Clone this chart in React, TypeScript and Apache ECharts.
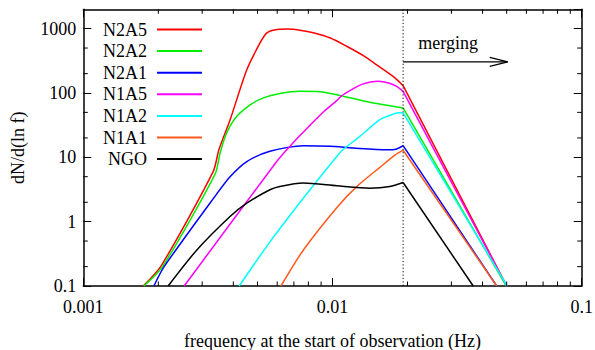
import React, { useEffect, useRef } from "react";
import * as echarts from "echarts";

// ---- data ----
const SERIES_NAMES = ["N2A5", "N2A2", "N2A1", "N1A5", "N1A2", "N1A1", "NGO"];
const SERIES_COLORS = ["#ff0000", "#00ee00", "#0000ff", "#ff00ff", "#00ffff", "#ff5a1e", "#000000"];

const N2A5 = [
  [0.00174, 0.1], [0.00206, 0.21], [0.00332, 6.0], [0.0035, 13.1], [0.00388, 38],
  [0.00453, 230], [0.00512, 600], [0.00545, 860], [0.00585, 955], [0.0066, 985],
  [0.0075, 940], [0.00837, 863], [0.0098, 715], [0.0114, 533], [0.0133, 380],
  [0.0153, 261], [0.0178, 172], [0.0192, 130], [0.05, 0.1],
];
const N2A2 = [
  [0.00175, 0.1], [0.00208, 0.2], [0.00338, 5.5], [0.00354, 11.7], [0.00376, 23.9],
  [0.00413, 43.4], [0.00469, 66], [0.00528, 84], [0.00615, 98], [0.0074, 106],
  [0.00891, 105], [0.01105, 89], [0.0141, 72], [0.0192, 58.6], [0.0498, 0.1],
];
const N2A1 = [
  [0.00192, 0.1], [0.00211, 0.2], [0.00345, 2.78], [0.00388, 5.0], [0.00453, 8.6],
  [0.00561, 12.4], [0.00763, 15.2], [0.00977, 14.9], [0.0121, 14.0], [0.0165, 13.1],
  [0.018, 13.4], [0.0192, 15.2], [0.0456, 0.1],
];
const N1A5 = [
  [0.00254, 0.1], [0.00597, 8.6], [0.00674, 14.8], [0.0075, 23], [0.0091, 49],
  [0.0104, 76], [0.0109, 91], [0.0117, 108], [0.0131, 136], [0.0153, 152],
  [0.0168, 143], [0.0181, 127], [0.0192, 106], [0.05, 0.1],
];
const N1A2 = [
  [0.00422, 0.1], [0.00562, 0.49], [0.00776, 2.5], [0.0104, 10.3], [0.011, 13.1],
  [0.01288, 21.2], [0.0155, 38.5], [0.0175, 47], [0.0186, 49.5], [0.0192, 49],
  [0.0502, 0.1],
];
const N1A1 = [
  [0.00621, 0.1], [0.00763, 0.36], [0.0104, 1.65], [0.0125, 3.5], [0.0155, 7.0],
  [0.0178, 10.8], [0.0192, 12.9], [0.0456, 0.1],
];
const NGO = [
  [0.00219, 0.1], [0.00285, 0.36], [0.00388, 1.2], [0.00453, 1.94], [0.00561, 3.13],
  [0.00615, 3.52], [0.00763, 3.98], [0.0104, 3.61], [0.0141, 3.32], [0.017, 3.52],
  [0.0192, 4.06], [0.0367, 0.1],
];
const SERIES_DATA = [N2A5, N2A2, N2A1, N1A5, N1A2, N1A1, NGO];

const X_MIN = 0.001;
const X_MAX = 0.1;
const Y_MIN = 0.1;
const Y_MAX = 2000;
const X_TICK_LABELS = ["0.001", "0.01", "0.1"];
const Y_TICK_LABELS = ["0.1", "1", "10", "100", "1000"];
const X_MINOR_TICKS = [
  0.002, 0.003, 0.004, 0.005, 0.006, 0.007, 0.008, 0.009,
  0.02, 0.03, 0.04, 0.05, 0.06, 0.07, 0.08, 0.09,
];
const Y_MINOR_TICKS = [0.2, 0.5, 2, 5, 20, 50, 200, 500];

const MERGE_F = 0.0192;
const ARROW_END_F = 0.0505;
const ARROW_Y = 305;
const LABEL_F = 0.0221;
const LABEL_Y = 590;
const LABEL_TEXT = "merging";
const X_NAME = "frequency at the start of observation (Hz)";
const Y_NAME = "dN/d(ln f)";

const FONT = "Liberation Serif";
const FS = 18;
const MAJOR_LEN = 8;
const MINOR_LEN = 4.5;

function decadeLabel(v: number, labels: string[], minExp: number) {
  const e = Math.log10(v);
  const r = Math.round(e);
  if (Math.abs(e - r) > 1e-6) return "";
  const idx = r - minExp;
  return labels[idx] ?? "";
}

export default function App() {
  const ref = useRef<HTMLDivElement>(null);

  useEffect(() => {
    if (!ref.current) return;
    const chart = echarts.init(ref.current, undefined, { renderer: "svg" });

    const axisCommon = {
      axisLine: { show: true, onZero: false, lineStyle: { color: "#000", width: 1.5 } },
      axisTick: { show: true, inside: true, length: MAJOR_LEN, lineStyle: { color: "#000", width: 1 } },
      splitLine: { show: false },
      minorTick: { show: false },
    };

    // each curve: a smooth part up to the merging frequency, then a straight part after it
    const lineSeries = SERIES_NAMES.flatMap((name, i) => {
      const d = SERIES_DATA[i];
      const common = {
        name,
        type: "line",
        showSymbol: false,
        symbol: "none",
        xAxisIndex: 0,
        yAxisIndex: 0,
        lineStyle: { color: SERIES_COLORS[i], width: 1.5 },
        itemStyle: { color: SERIES_COLORS[i] },
        z: 3,
      };
      return [
        { ...common, data: d.filter((p) => p[0] <= MERGE_F), smooth: 0.25 },
        { ...common, data: d.filter((p) => p[0] >= MERGE_F), smooth: false },
      ];
    });

    const option = {
      animation: false,
      textStyle: { fontFamily: FONT },
      grid: { left: 83.3, right: 13.3, top: 9.3, bottom: 64, containLabel: false, outerBoundsMode: "none" },
      legend: {
        data: SERIES_NAMES,
        orient: "vertical",
        align: "right",
        right: 393,
        top: 20.5,
        padding: 0,
        itemGap: 3.6,
        itemWidth: 45,
        itemHeight: 2,
        icon: "rect",
        selectedMode: false,
        textStyle: { fontFamily: FONT, fontSize: FS, color: "#000", lineHeight: 18, padding: [0, 5, 0, 0] },
      },
      xAxis: [
        {
          type: "log",
          logBase: 10,
          min: X_MIN,
          max: X_MAX,
          position: "bottom",
          name: X_NAME,
          nameLocation: "middle",
          nameGap: 46,
          nameTextStyle: { fontFamily: FONT, fontSize: FS, color: "#000" },
          ...axisCommon,
          axisLabel: {
            show: true,
            margin: 12,
            fontFamily: FONT,
            fontSize: FS,
            color: "#000",
            formatter: (v: number) => decadeLabel(v, X_TICK_LABELS, -3),
          },
        },
        {
          type: "log",
          logBase: 10,
          min: X_MIN,
          max: X_MAX,
          position: "top",
          ...axisCommon,
          axisLabel: { show: false },
        },
      ],
      yAxis: [
        {
          type: "log",
          logBase: 10,
          min: Y_MIN,
          max: Y_MAX,
          position: "left",
          name: Y_NAME,
          nameLocation: "middle",
          nameGap: 56,
          nameTextStyle: { fontFamily: FONT, fontSize: FS, color: "#000" },
          ...axisCommon,
          axisLabel: {
            show: true,
            margin: 7,
            fontFamily: FONT,
            fontSize: FS,
            color: "#000",
            showMaxLabel: false,
            formatter: (v: number) => decadeLabel(v, Y_TICK_LABELS, -1),
          },
        },
        {
          type: "log",
          logBase: 10,
          min: Y_MIN,
          max: Y_MAX,
          position: "right",
          ...axisCommon,
          axisLabel: { show: false },
        },
      ],
      series: [
        ...lineSeries,
        {
          name: "_xminor",
          type: "custom",
          xAxisIndex: 0,
          yAxisIndex: 0,
          silent: true,
          z: 5,
          data: X_MINOR_TICKS.map((x) => [x, 1]),
          renderItem: (params: any, api: any) => {
            const x = api.coord([api.value(0), 1])[0];
            const cs = params.coordSys;
            const top = cs.y;
            const bottom = cs.y + cs.height;
            return {
              type: "group",
              children: [
                { type: "line", shape: { x1: x, y1: bottom, x2: x, y2: bottom - MINOR_LEN }, style: { stroke: "#000", lineWidth: 1 } },
                { type: "line", shape: { x1: x, y1: top, x2: x, y2: top + MINOR_LEN }, style: { stroke: "#000", lineWidth: 1 } },
              ],
            };
          },
        },
        {
          name: "_yminor",
          type: "custom",
          xAxisIndex: 0,
          yAxisIndex: 0,
          silent: true,
          z: 5,
          data: Y_MINOR_TICKS.map((y) => [0.01, y]),
          renderItem: (params: any, api: any) => {
            const y = api.coord([0.01, api.value(1)])[1];
            const cs = params.coordSys;
            const left = cs.x;
            const right = cs.x + cs.width;
            return {
              type: "group",
              children: [
                { type: "line", shape: { x1: left, y1: y, x2: left + MINOR_LEN, y2: y }, style: { stroke: "#000", lineWidth: 1 } },
                { type: "line", shape: { x1: right, y1: y, x2: right - MINOR_LEN, y2: y }, style: { stroke: "#000", lineWidth: 1 } },
              ],
            };
          },
        },
        {
          name: "_merging",
          type: "custom",
          xAxisIndex: 0,
          yAxisIndex: 0,
          silent: true,
          z: 4,
          data: [[MERGE_F, ARROW_Y]],
          renderItem: (params: any, api: any) => {
            const cs = params.coordSys;
            const p0 = api.coord([MERGE_F, ARROW_Y]);
            const p1 = api.coord([ARROW_END_F, ARROW_Y]);
            const pt = api.coord([LABEL_F, LABEL_Y]);
            return {
              type: "group",
              children: [
                {
                  type: "line",
                  shape: { x1: p0[0], y1: cs.y, x2: p0[0], y2: cs.y + cs.height },
                  style: { stroke: "#000", lineWidth: 1, lineDash: [1.2, 2.2] },
                },
                {
                  type: "line",
                  shape: { x1: p0[0], y1: p0[1], x2: p1[0], y2: p1[1] },
                  style: { stroke: "#000", lineWidth: 1.2 },
                },
                {
                  type: "polyline",
                  shape: { points: [[p1[0] - 18, p1[1] - 4.5], [p1[0], p1[1]], [p1[0] - 18, p1[1] + 4.5]] },
                  style: { stroke: "#000", lineWidth: 1.2, fill: "none" },
                },
                {
                  type: "text",
                  style: {
                    text: LABEL_TEXT,
                    x: pt[0],
                    y: pt[1],
                    fill: "#000",
                    fontFamily: FONT,
                    fontSize: FS,
                    align: "left",
                    verticalAlign: "middle",
                  },
                },
              ],
            };
          },
        },
      ],
    };

    chart.setOption(option as any);
    return () => chart.dispose();
  }, []);

  return (
    <div
      ref={ref}
      style={{ position: "fixed", left: 0, top: 0, width: 595, height: 350, background: "#fff" }}
    />
  );
}
